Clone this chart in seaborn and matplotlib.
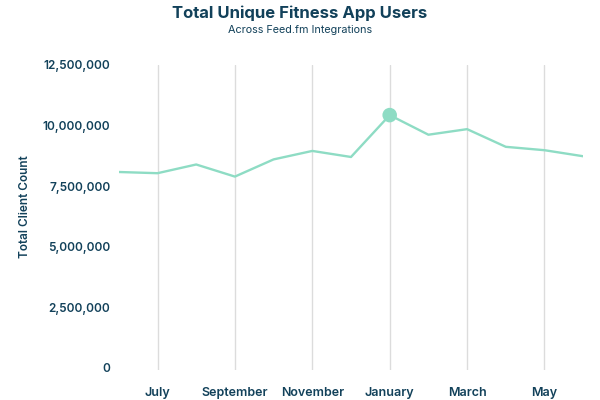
import matplotlib
matplotlib.use("Agg")
import matplotlib.pyplot as plt
import seaborn as sns
import pandas as pd
from matplotlib.ticker import FuncFormatter

sns.set_theme(style="white")
plt.rcParams["font.family"] = ["Inter", "DejaVu Sans"]

# ── Data ──────────────────────────────────────────────────────────────────
months = ["June", "July", "August", "September", "October", "November",
          "December", "January", "February", "March", "April", "May", "June"]
users = [8080000, 8030000, 8390000, 7890000, 8600000, 8950000,
         8700000, 10430000, 9620000, 9850000, 9120000, 8980000, 8730000]
y_ticks = [0, 2500000, 5000000, 7500000, 10000000, 12500000]

NAVY = "#12415a"
MINT = "#8edcc4"
GRID = "#dcdcdc"

df = pd.DataFrame({"idx": range(len(months)), "month": months, "users": users})
peak = df.loc[[df["users"].idxmax()]]

fig = plt.figure(figsize=(6, 4), dpi=100)
ax = fig.add_axes([0.198, 0.075, 0.774, 0.7625])

sns.lineplot(data=df, x="idx", y="users", color=MINT, linewidth=1.7, ax=ax)
sns.scatterplot(data=peak, x="idx", y="users", color=MINT, s=110,
                edgecolor="none", zorder=5, ax=ax)

ax.set_xlim(0, len(months) - 1)
ax.set_ylim(-100000, 12500000)
ax.set_yticks(y_ticks)
ax.yaxis.set_major_formatter(FuncFormatter(lambda v, _: f"{int(v):,}"))
ax.set_xticks(df["idx"][1::2])
ax.set_xticklabels(df["month"][1::2])

ax.grid(axis="x", color=GRID, linewidth=1.0)
ax.grid(axis="y", visible=False)
for s in ax.spines.values():
    s.set_visible(False)
ax.tick_params(axis="both", length=0, colors=NAVY)
ax.tick_params(axis="x", pad=12, labelsize=9)
ax.tick_params(axis="y", pad=6, labelsize=8.5)
for lbl in ax.get_xticklabels() + ax.get_yticklabels():
    lbl.set_fontweight("semibold")

ax.set_xlabel("")
ax.set_ylabel("Total Client Count", color=NAVY, fontsize=8.5,
              fontweight="semibold")
ax.yaxis.set_label_coords(-0.19, 0.535)

fig.text(0.5, 0.967, "Total Unique Fitness App Users", ha="center", va="center",
         fontsize=12, fontweight="bold", color=NAVY)
fig.text(0.5, 0.925, "Across Feed.fm Integrations", ha="center", va="center",
         fontsize=7.8, color=NAVY)

fig.savefig("out.png", dpi=100)
